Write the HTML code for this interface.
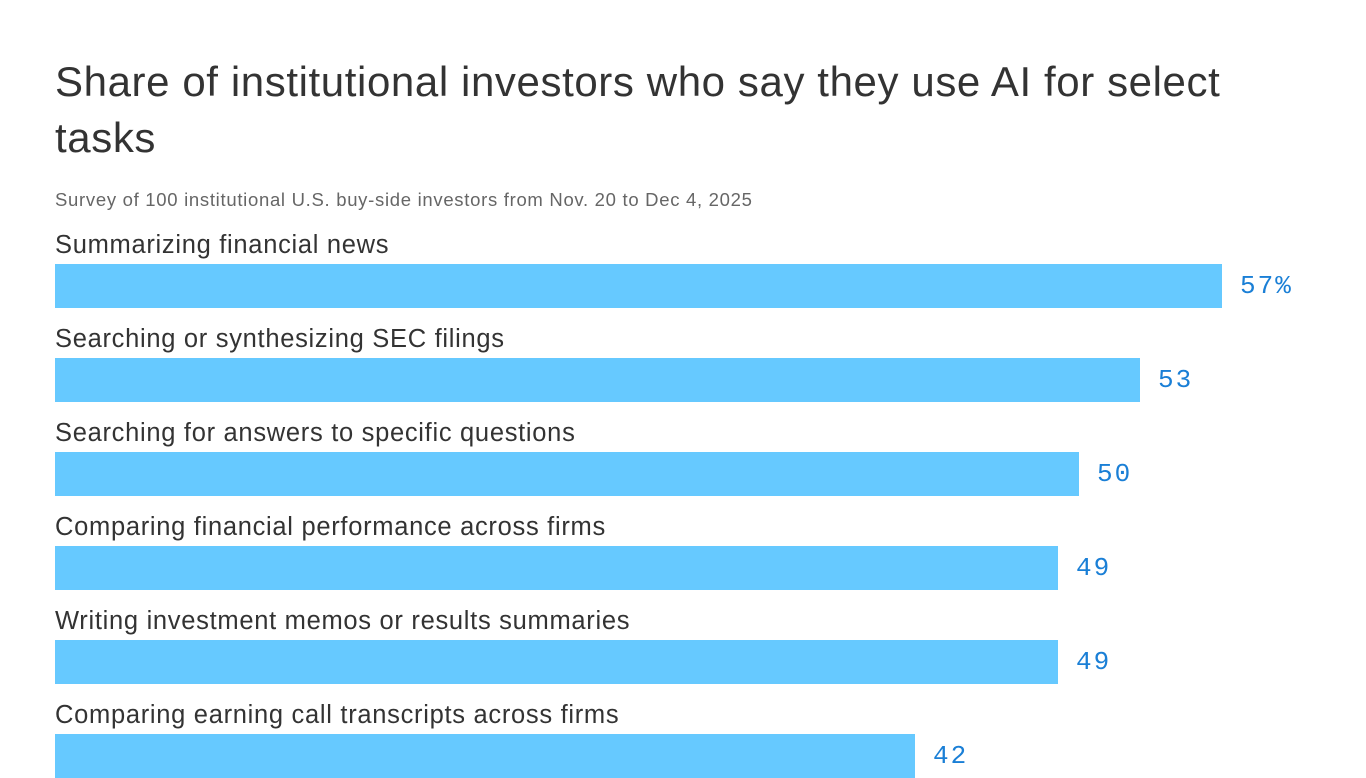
<!DOCTYPE html>
<html><head><meta charset="utf-8"><style>
body{margin:0;width:1366px;height:768px;overflow:hidden;background:#fff;font-family:"Liberation Sans",sans-serif;position:relative}
.t{position:absolute;left:55px;top:54px;font-size:42px;letter-spacing:0.6px;line-height:56px;color:#333;width:1200px}
.s{position:absolute;left:55px;top:189px;font-size:18.5px;letter-spacing:0.7px;color:#666}
.l{position:absolute;left:55px;font-size:25.5px;letter-spacing:0.7px;color:#333;white-space:nowrap}
.b{position:absolute;left:55px;height:44px;background:#66c9ff}
.v{position:absolute;font-family:"Liberation Mono",monospace;font-size:26px;letter-spacing:2px;color:#1a7fd6}
</style></head><body>
<div class="t">Share of institutional investors who say they use AI for select tasks</div>
<div class="s">Survey of 100 institutional U.S. buy-side investors from Nov. 20 to Dec 4, 2025</div>

<div class="l" style="top:231px">Summarizing financial news</div>
<div class="b" style="top:264px;width:1167px"></div>
<div class="v" style="top:271px;left:1240px">57%</div>

<div class="l" style="top:325px">Searching or synthesizing SEC filings</div>
<div class="b" style="top:358px;width:1085px"></div>
<div class="v" style="top:365px;left:1158px">53</div>

<div class="l" style="top:419px">Searching for answers to specific questions</div>
<div class="b" style="top:452px;width:1024px"></div>
<div class="v" style="top:459px;left:1097px">50</div>

<div class="l" style="top:513px">Comparing financial performance across firms</div>
<div class="b" style="top:546px;width:1003px"></div>
<div class="v" style="top:553px;left:1076px">49</div>

<div class="l" style="top:607px">Writing investment memos or results summaries</div>
<div class="b" style="top:640px;width:1003px"></div>
<div class="v" style="top:647px;left:1076px">49</div>

<div class="l" style="top:701px">Comparing earning call transcripts across firms</div>
<div class="b" style="top:734px;width:860px"></div>
<div class="v" style="top:741px;left:933px">42</div>
</body></html>
